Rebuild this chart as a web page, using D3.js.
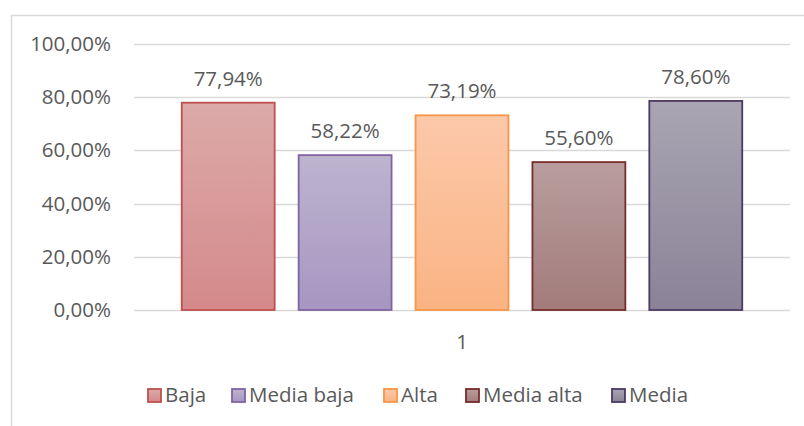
<!DOCTYPE html>
<html><head><meta charset="utf-8">
<script src="https://cdn.jsdelivr.net/npm/d3@7"></script>
<style>html,body{margin:0;padding:0;background:#fff;}svg{display:block;font-family:"Open Sans",sans-serif;}</style>
</head><body>
<svg id="c" width="804" height="426"></svg>
<script>
const series = ["Baja","Media baja","Alta","Media alta","Media"];
const values = [77.94, 58.22, 73.19, 55.60, 78.60];
const category = "1";
const yTicks = [0,20,40,60,80,100];
const fillTop = ["#dcaaa9","#bdb4cf","#fcc9aa","#b99d9e","#a9a5b2"];
const fillBottom = ["#d4898a","#a696c1","#fab383","#a27b7a","#8a8398"];
const strokes = ["#c0504d","#8064a2","#f79646","#772c2a","#4b3a62"];

const svg = d3.select("#c");
const L=134, R=790, T=44, B=310;
const textColor="#595959";
const fs="20.5px";

svg.append("path").attr("d","M11.5,426 V15.5 H804").attr("fill","none").attr("stroke","#d9d9d9").attr("stroke-width",1.5);

const y = d3.scaleLinear().domain([0,100]).range([B,T]);
const x = d3.scaleBand().domain(series).range([L,R]).paddingInner(0.188).paddingOuter(0.4);

const defs = svg.append("defs");
series.forEach((s,i)=>{
  const g = defs.append("linearGradient").attr("id","g"+i).attr("x1",0).attr("y1",0).attr("x2",0).attr("y2",1);
  g.append("stop").attr("offset","0%").attr("stop-color",fillTop[i]);
  g.append("stop").attr("offset","100%").attr("stop-color",fillBottom[i]);
});

svg.append("g").selectAll("line").data(yTicks).join("line")
  .attr("x1",L).attr("x2",R).attr("y1",d=>Math.round(y(d))+0.5).attr("y2",d=>Math.round(y(d))+0.5)
  .attr("stroke","#d9d9d9").attr("stroke-width",1.5);

const fmt = d => d3.format(".2f")(d).replace(".",",")+"%";
const yAxis = d3.axisLeft(y).tickValues(yTicks).tickSize(0).tickPadding(0).tickFormat(fmt);
const ya = svg.append("g").attr("transform",`translate(${L-23},0)`).call(yAxis);
ya.select(".domain").remove();
ya.selectAll("text").attr("fill",textColor).style("font-size",fs).style("font-family","'Open Sans',sans-serif");

svg.append("g").selectAll("rect").data(values).join("rect")
  .attr("x",(d,i)=>x(series[i])+1).attr("width",x.bandwidth()-2)
  .attr("y",d=>y(d)).attr("height",d=>B-y(d))
  .attr("fill",(d,i)=>`url(#g${i})`).attr("stroke",(d,i)=>strokes[i]).attr("stroke-width",1.8);

svg.append("g").selectAll("text").data(values).join("text")
  .attr("x",(d,i)=>x(series[i])+x.bandwidth()/2).attr("y",d=>y(d)-17)
  .attr("text-anchor","middle").attr("fill",textColor).style("font-size",fs)
  .text(d=>fmt(d));

svg.append("text").attr("x",(L+R)/2).attr("y",349).attr("text-anchor","middle")
  .attr("fill",textColor).style("font-size",fs).text(category);

const legendX = [147,231,383,465,611];
const lg = svg.append("g");
series.forEach((s,i)=>{
  lg.append("rect").attr("x",legendX[i]+1).attr("y",389).attr("width",13).attr("height",13)
    .attr("fill",`url(#g${i})`).attr("stroke",strokes[i]).attr("stroke-width",1.8);
  lg.append("text").attr("x",legendX[i]+18).attr("y",402).attr("fill",textColor).style("font-size",fs).text(s);
});
</script>
</body></html>
